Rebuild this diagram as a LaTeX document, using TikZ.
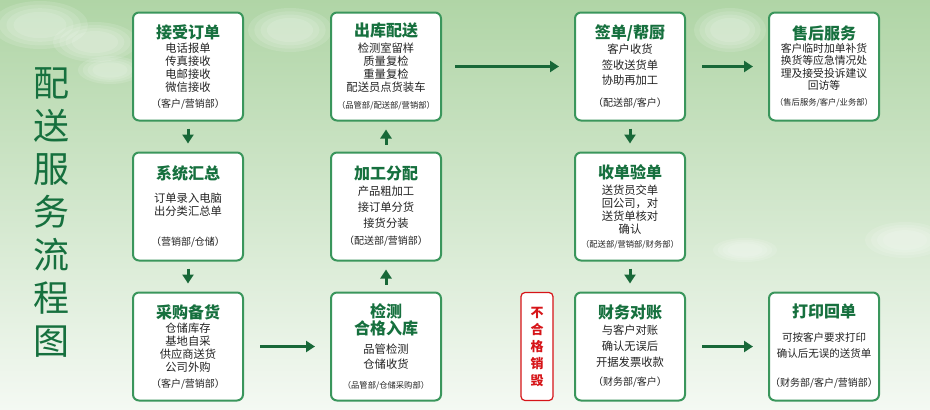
\documentclass[tikz,border=0pt]{standalone}
\usepackage{fontspec}
\usepackage{tikz}
\usetikzlibrary{arrows.meta}
\usetikzlibrary{positioning}
\usetikzlibrary{shadings}
\newfontfamily\cjk{Noto Sans CJK SC}
\definecolor{boxgreen}{RGB}{58,150,92}
\definecolor{titlegreen}{RGB}{22,112,62}
\definecolor{arrowgreen}{RGB}{24,104,56}
\definecolor{bodygray}{RGB}{35,35,35}
\definecolor{skytop}{RGB}{176,213,166}
\definecolor{skymid}{RGB}{214,234,208}
\definecolor{skybot}{RGB}{244,249,243}
\definecolor{badred}{RGB}{214,20,24}
\newcommand{\bt}[1]{{\fontsize{16}{20}\selectfont\bfseries\color{titlegreen}#1}}
\newcommand{\dept}[1]{{\fontsize{10}{12}\selectfont #1}}
\newcommand{\deptsm}[1]{{\fontsize{8.3}{10}\selectfont #1}}

\begin{document}
\begin{tikzpicture}[x=1pt,y=-1pt,
    box/.style={draw=boxgreen, line width=2pt, rounded corners=6pt, fill=white,
        minimum width=110pt, minimum height=108pt, inner sep=0pt, align=center,
        font=\cjk\fontsize{11.3}{13}\selectfont, text=bodygray},
    badbox/.style={draw=badred, line width=1.2pt, rounded corners=4pt, fill=white,
        minimum width=32pt, minimum height=108pt, inner sep=0pt, align=center,
        font=\cjk\bfseries\fontsize{13}{17}\selectfont, text=badred},
    maintitle/.style={align=center, text=titlegreen, inner sep=0pt,
        font=\cjk\fontsize{36}{43}\selectfont},
    flow/.style={-{Triangle[length=9pt,width=11pt]}, line width=3pt, draw=arrowgreen,
        shorten <=16pt, shorten >=15pt},
    vflow/.style={flow, shorten <=7pt, shorten >=8pt},
    cloud/.style={fill=white, fill opacity=0.13, draw=none}]

% background
\shade[top color=skytop, middle color=skymid, bottom color=skybot] (0,0) rectangle (930,410);
\useasboundingbox (0,0) rectangle (930,410);
\foreach \cx/\cy/\rx/\ry in {40/25/48/24, 95/42/42/20, 110/70/32/14, 290/30/42/22,
    730/30/36/22, 905/240/40/18, 745/250/32/12} {
  \foreach \s in {1,0.85,0.7,0.55}
    \fill[cloud] (\cx,\cy) ellipse ({\rx*\s} and {\ry*\s});
}

\edef\ca{188}
\edef\cb{386}
\edef\cc{630}
\edef\cd{824}

\node[maintitle] (biaoti) at (52,213) {配\\送\\服\\务\\流\\程\\图};

% first column
\node[box] (jieshou) at (\ca,66.5) {\bt{接受订单}\\[1pt] 电话报单\\ 传真接收\\ 电邮接收\\ 微信接收\\[3pt] \dept{（客户/营销部）}};
\node[box] (huizong) at (\ca,206.5) {\bt{系统汇总}\\[10pt] 订单录入电脑\\ 出分类汇总单\\[17pt] \dept{（营销部/仓储）}};
\node[box] (caigou) at (\ca,346.5) {\bt{采购备货}\\[1pt] 仓储库存\\ 基地自采\\ 供应商送货\\ 公司外购\\[3pt] \dept{（客户/营销部）}};

% second column
\node[box] (chuku) at (\cb,66.5) {\bt{出库配送}\\[3pt] 检测室留样\\ 质量复检\\ 重量复检\\ 配送员点货装车\\[4pt] \deptsm{（品管部/配送部/营销部）}};
\node[box] (jiagong) at (\cb,206.5) {\bt{加工分配}\\[3pt] 产品粗加工\\[3pt] 接订单分货\\[3pt] 接货分装\\[4pt] \dept{（配送部/营销部）}};
\node[box] (jiance) at (\cb,346.5) {\bt{检测}\\[1pt] \bt{合格入库}\\[6pt] 品管检测\\[2pt] 仓储收货\\[7pt] \deptsm{（品管部/仓储采购部）}};

% third column
\node[box] (qiandan) at (\cc,66.5) {\bt{签单/帮厨}\\[2pt] 客户收货\\[2.5pt] 签收送货单\\[2.5pt] 协助再加工\\[9pt] \dept{（配送部/客户）}};
\node[box] (shoudan) at (\cc,206.5) {\bt{收单验单}\\[3pt] 送货员交单\\ 回公司，对\\ 送货单核对\\ 确认\\[1pt] \deptsm{（配送部/营销部/财务部）}};
\node[box] (caiwu) at (\cc,346.5) {\bt{财务对账}\\[3pt] 与客户对账\\[3pt] 确认无误后\\[3pt] 开据发票收款\\[6pt] \dept{（财务部/客户）}};

% fourth column
\node[box, font=\cjk\fontsize{10.8}{12.3}\selectfont] (shouhou) at (\cd,66.5) {\bt{售后服务}\\[1pt] 客户临时加单补货\\ 换货等应急情况处\\ 理及接受投诉建议\\ 回访等\\[4pt] \deptsm{（售后服务/客户/业务部）}};
\node[box, font=\cjk\fontsize{10.5}{16}\selectfont] (dayin) at (\cd,346.5) {\bt{打印回单}\\[8pt] 可按客户要求打印\\ 确认后无误的送货单\\[13pt] \dept{（财务部/客户/营销部）}};

% not qualified
\node[badbox] (xiaohui) at (537,346.5) {不\\合\\格\\销\\毁};

% connectors
\draw[vflow] (jieshou) -- (huizong);
\draw[vflow] (huizong) -- (caigou);
\draw[flow] (caigou) -- (jiance);
\draw[vflow] (jiance) -- (jiagong);
\draw[vflow] (jiagong) -- (chuku);
\draw[flow, shorten <=13pt] (chuku) -- (qiandan);
\draw[flow] (qiandan) -- (shouhou);
\draw[vflow] (qiandan) -- (shoudan);
\draw[vflow] (shoudan) -- (caiwu);
\draw[flow] (caiwu) -- (dayin);
\end{tikzpicture}
\end{document}
